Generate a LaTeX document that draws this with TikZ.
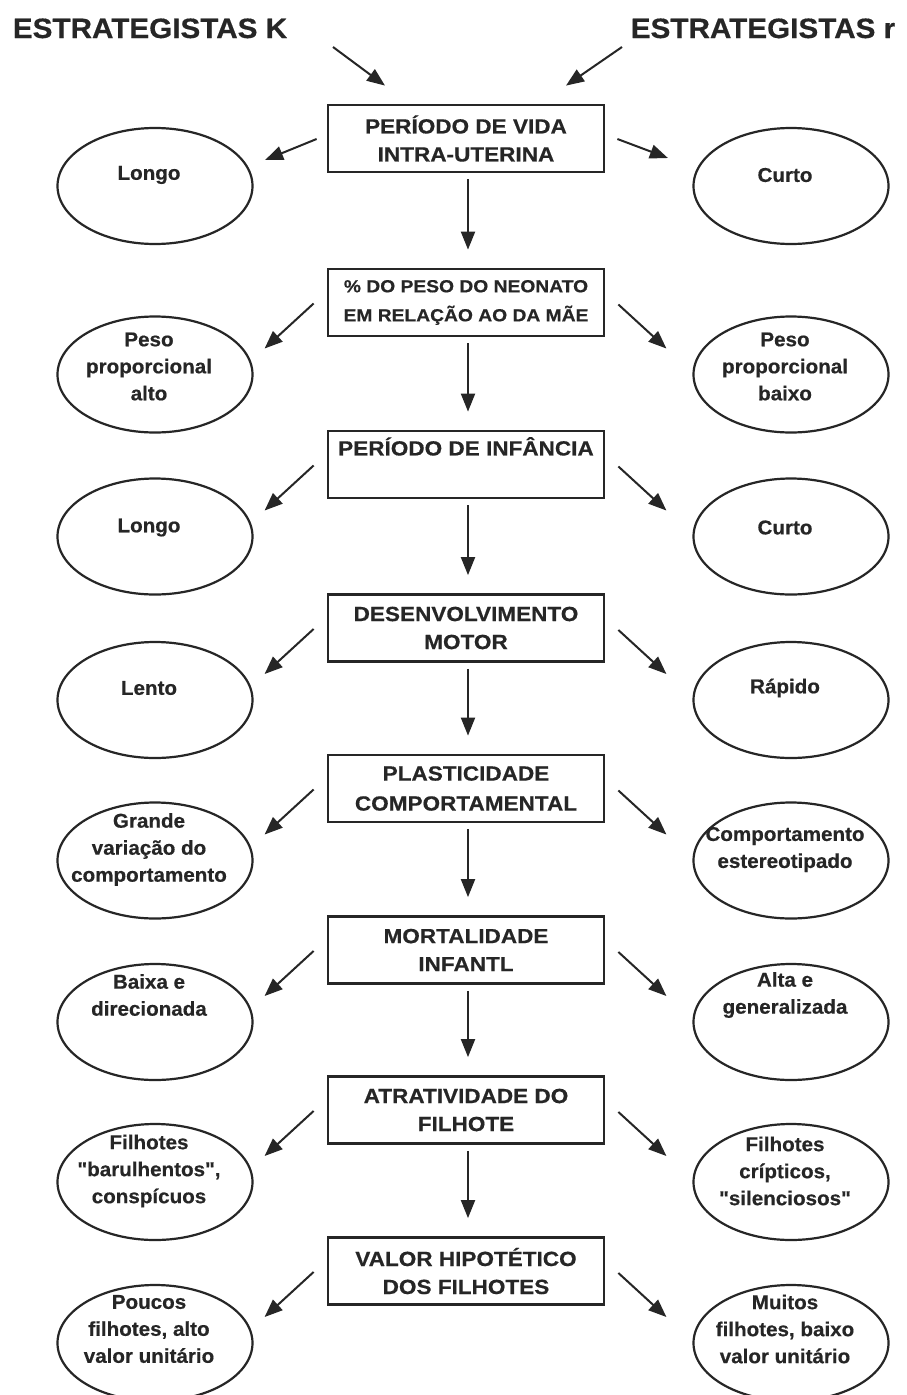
\documentclass[tikz,border=0pt]{standalone}
\usepackage{fontspec}
\setmainfont{Liberation Sans}
\newfontfamily\titlefont{Liberation Sans}[FakeStretch=1.06,FakeBold=0.5]
\newfontfamily\boxfont{Liberation Sans}[FakeStretch=1.1,FakeBold=0.5]
\newfontfamily\ellfont{Liberation Sans}[FakeStretch=1.03,FakeBold=0.5]
\usetikzlibrary{arrows.meta,calc,shapes.geometric}
\definecolor{ink}{RGB}{38,38,38}

\begin{document}
\begin{tikzpicture}[x=1pt,y=-1pt,
  stage/.style={draw=ink, text=ink, line width=2.8pt, rectangle,
    minimum width=276pt, minimum height=67pt, inner sep=0pt, align=center,
    font=\boxfont\bfseries\fontsize{20.5}{28}\selectfont},
  ell/.style={draw=ink, line width=2.2pt, ellipse,
    minimum width=195pt, minimum height=116pt, inner sep=0pt},
  etxt/.style={text=ink, align=center, inner sep=0pt,
    font=\ellfont\bfseries\fontsize{20}{27}\selectfont},
  ttl/.style={text=ink, inner sep=0pt, anchor=base,
    font=\titlefont\bfseries\fontsize{28}{32}\selectfont},
  arr/.style={draw=ink, line width=2pt, -{Triangle[length=18pt,width=14pt]}},
  down/.style={arr, shorten <=6pt, shorten >=18pt}]

\fill[white] (0,0) rectangle (906,1395);
\useasboundingbox (0,0) rectangle (906,1395);

% strategy headings
\node[ttl] (tK) at (150,38) {ESTRATEGISTAS K};
\node[ttl] (tR) at (763,38) {ESTRATEGISTAS r};

% central chain of traits
\node[stage] (b1) at (466,138.5) {PERÍODO DE VIDA\\INTRA-UTERINA};
\node[stage, font=\boxfont\bfseries\fontsize{17.5}{29}\selectfont] (b2) at (466,302.5)
  {\% DO PESO DO NEONATO\\EM RELAÇÃO AO DA MÃE};
\node[stage] (b3) at (466,464.5) {PERÍODO DE INFÂNCIA\\\strut};
\node[stage] (b4) at (466,628) {DESENVOLVIMENTO\\MOTOR};
\node[stage, font=\boxfont\bfseries\fontsize{20.5}{30}\selectfont] (b5) at (466,788.5)
  {PLASTICIDADE\\COMPORTAMENTAL};
\node[stage] (b6) at (466,950) {MORTALIDADE\\INFANTL};
\node[stage] (b7) at (466,1110) {ATRATIVIDADE DO\\FILHOTE};
\node[stage] (b8) at (466,1271) {VALOR HIPOTÉTICO\\DOS FILHOTES};

% outcome ellipses: K on the left, r on the right
\node[ell] (L1) at (155,186) {};
\node[ell] (R1) at (791,186) {};
\foreach \i/\y in {2/374.5,3/536.5,4/700,5/860.5,6/1022,7/1182,8/1343}{
  \node[ell] (L\i) at (155,\y) {};
  \node[ell] (R\i) at (791,\y) {};
}

% ellipse texts
\node[etxt] (L1t) at ($(L1)+(-6,-11)$) {Longo};
\node[etxt] (R1t) at ($(R1)+(-6,-11)$) {Curto};
\node[etxt] (L2t) at ($(L2)+(-6,-8)$) {Peso\\proporcional\\alto};
\node[etxt] (R2t) at ($(R2)+(-6,-8)$) {Peso\\proporcional\\baixo};
\node[etxt] (L3t) at ($(L3)+(-6,-9)$) {Longo};
\node[etxt] (R3t) at ($(R3)+(-6,-9)$) {Curto};
\node[etxt] (L4t) at ($(L4)+(-6,-12)$) {Lento};
\node[etxt] (R4t) at ($(R4)+(-6,-12)$) {Rápido};
\node[etxt] (L5t) at ($(L5)+(-6,-11)$) {Grande\\variação do\\comportamento};
\node[etxt] (R5t) at ($(R5)+(-6,-11)$) {Comportamento\\estereotipado};
\node[etxt] (L6t) at ($(L6)+(-6,-27)$) {Baixa e\\direcionada};
\node[etxt] (R6t) at ($(R6)+(-6,-27)$) {Alta e\\generalizada};
\node[etxt] (L7t) at ($(L7)+(-6,-11)$) {Filhotes\\"barulhentos",\\conspícuos};
\node[etxt] (R7t) at ($(R7)+(-6,-11)$) {Filhotes\\crípticos,\\"silenciosos"};
\node[etxt] (L8t) at ($(L8)+(-6,-14)$) {Poucos\\filhotes, alto\\valor unitário};
\node[etxt] (R8t) at ($(R8)+(-6,-14)$) {Muitos\\filhotes, baixo\\valor unitário};

% headings point into the first trait
\coordinate (kfrom) at (333,47);
\coordinate (rfrom) at (622,47);
\draw[arr] (kfrom) -- ($(b1.north)+(-81,-18)$);
\draw[arr] (rfrom) -- ($(b1.north)+(100,-18)$);

% first trait to its outcomes
\draw[arr] ($(b1.west)+(-10,0.5)$) -- ($(L1.east)+(11.5,-26)$);
\draw[arr] ($(b1.east)+(12,0.5)$) -- ($(R1.west)+(-24.5,-28)$);

% remaining traits to their outcomes
\foreach \i in {2,...,8}{
  \draw[arr] ($(b\i.west)+(-13,1)$) -- ($(L\i.east)+(11,-26)$);
  \draw[arr] ($(b\i.east)+(13,2)$) -- ($(R\i.west)+(-26,-26)$);
}

% chain of traits
\foreach \a/\b in {1/2,2/3,3/4,4/5,5/6,6/7,7/8}{
  \draw[down] ([xshift=2pt]b\a.south) -- ([xshift=2pt]b\b.north);
}
\end{tikzpicture}
\end{document}
